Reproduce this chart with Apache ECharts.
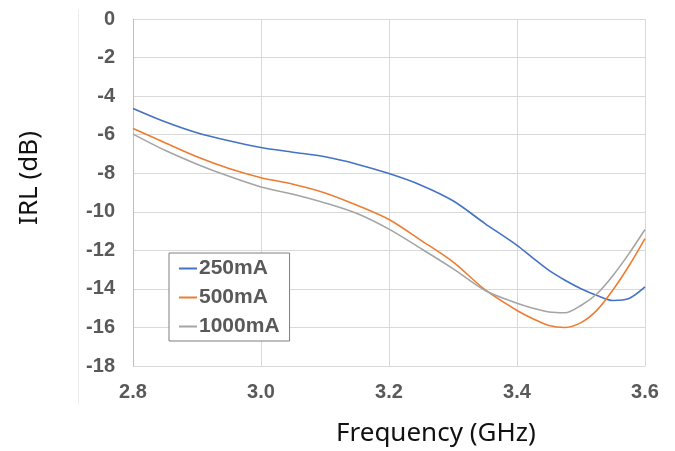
<!DOCTYPE html>
<html>
<head>
<meta charset="utf-8">
<script src="https://cdn.jsdelivr.net/npm/echarts@6/dist/echarts.min.js"></script>
<style>
  html, body { margin: 0; padding: 0; background: #fff; }
  #chart { width: 675px; height: 451px; }
</style>
</head>
<body>
<div id="chart"></div>
<script>
// Frequency sweep points (GHz)
const freqs = [2.80, 2.85, 2.90, 2.95, 3.00, 3.05, 3.10, 3.15, 3.20, 3.25, 3.30, 3.35, 3.40, 3.425, 3.45, 3.475, 3.50, 3.525, 3.55, 3.575, 3.60];

// Input return loss (dB) per bias current
const irl250 = [-4.64, -5.33, -5.9, -6.32, -6.67, -6.91, -7.15, -7.53, -8.02, -8.62, -9.43, -10.61, -11.74, -12.4, -13.04, -13.55, -13.99, -14.34, -14.6, -14.5, -13.9];
const irl500 = [-5.68, -6.42, -7.15, -7.76, -8.23, -8.57, -9.02, -9.66, -10.4, -11.48, -12.6, -14.04, -15.12, -15.55, -15.9, -16.0, -15.75, -15.1, -14.05, -12.8, -11.39];
const irl1000 = [-5.97, -6.81, -7.53, -8.16, -8.71, -9.09, -9.54, -10.09, -10.9, -11.91, -12.95, -14.08, -14.74, -15.0, -15.2, -15.24, -14.86, -14.25, -13.3, -12.17, -10.92];

const seriesNames = ['250mA', '500mA', '1000mA'];
const seriesColors = ['#4472C4', '#ED7D31', '#A5A5A5'];

const pair = arr => freqs.map((f, i) => [f, arr[i]]);

const chart = echarts.init(document.getElementById('chart'));
const tickFont = { color: '#595959', fontFamily: 'Liberation Sans', fontWeight: 'bold', fontSize: 20 };
const titleFont = '26px "Noto Sans"';

chart.setOption({
  animation: false,
  grid: { left: 133, right: 30, top: 19, bottom: 85 },
  xAxis: {
    type: 'value',
    min: 2.8, max: 3.6, interval: 0.2,
    axisLine: { show: false },
    axisTick: { show: false },
    splitLine: { show: true, lineStyle: { color: '#d9d9d9', width: 1 } },
    axisLabel: Object.assign({ margin: 16, formatter: v => v.toFixed(1) }, tickFont)
  },
  yAxis: {
    type: 'value',
    min: -18, max: 0, interval: 2,
    axisLine: { show: true, lineStyle: { color: '#bfbfbf', width: 1 } },
    axisTick: { show: false },
    splitLine: { show: true, lineStyle: { color: '#d9d9d9', width: 1 } },
    axisLabel: Object.assign({ margin: 18 }, tickFont)
  },
  legend: {
    orient: 'vertical',
    left: 169, top: 253,
    padding: [5, 10, 4, 10],
    itemGap: 8,
    itemWidth: 18,
    itemHeight: 2,
    icon: 'rect',
    borderColor: '#7f7f7f',
    borderWidth: 1,
    backgroundColor: '#fff',
    textStyle: Object.assign({ padding: [0, 0, 0, -3] }, tickFont, { fontSize: 21 }),
    data: seriesNames
  },
  graphic: [
    { type: 'line', silent: true, shape: { x1: 78.5, y1: 10, x2: 78.5, y2: 405 }, style: { stroke: '#ececec', lineWidth: 1 } },
    { type: 'text', x: 336, y: 434, style: { text: 'Frequency (GHz)', font: titleFont, fill: '#111', verticalAlign: 'middle' } },
    { type: 'text', x: 30, y: 178, rotation: Math.PI / 2, style: { text: 'IRL (dB)', font: titleFont, fill: '#111', align: 'center', verticalAlign: 'middle' } }
  ],
  series: [irl250, irl500, irl1000].map((arr, i) => ({
    name: seriesNames[i],
    type: 'line',
    data: pair(arr),
    smooth: 0.3,
    symbol: 'none',
    lineStyle: { color: seriesColors[i], width: 1.6 },
    itemStyle: { color: seriesColors[i] }
  }))
});
</script>
</body>
</html>
